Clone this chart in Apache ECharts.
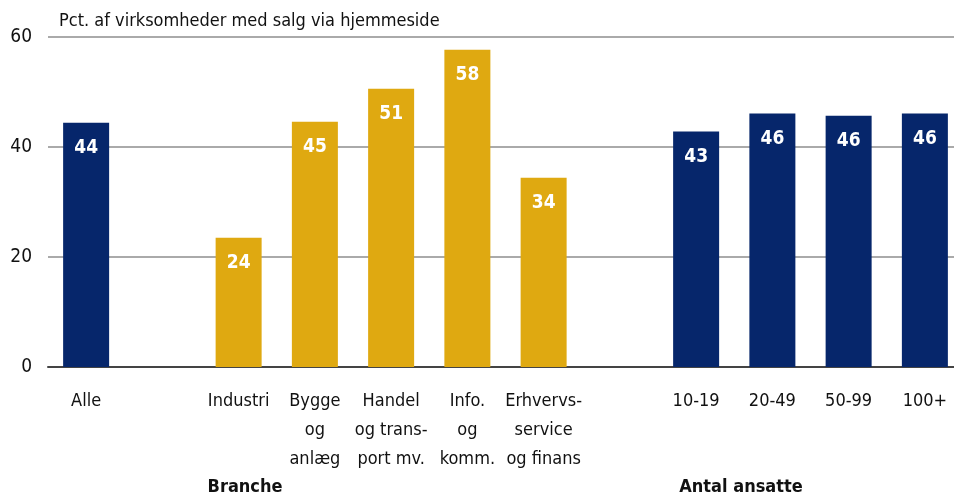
<!DOCTYPE html>
<html>
<head>
<meta charset="utf-8">
<script src="https://cdn.jsdelivr.net/npm/echarts@6/dist/echarts.min.js"></script>
<style>
  html, body { margin: 0; padding: 0; background: #fff; overflow: hidden; }
  #chart { width: 963px; height: 498px; }
</style>
</head>
<body>
<div id="chart"></div>
<script>
// categories (empty strings are the gaps between groups)
var categories = [
  'Alle', '', 'Industri', 'Bygge\nog\nanlæg', 'Handel\nog trans-\nport mv.',
  'Info.\nog\nkomm.', 'Erhvervs-\nservice\nog finans', '',
  '10-19', '20-49', '50-99', '100+'
];
var values = [44.4, '-', 23.5, 44.6, 50.6, 57.7, 34.4, '-', 42.8, 46.1, 45.7, 46.1];
var groups = ['total', '', 'branche', 'branche', 'branche', 'branche', 'branche', '', 'size', 'size', 'size', 'size'];
var yTicks = [0, 20, 40, 60];

var NAVY = '#06266b';
var GOLD = '#dfa911';
var FONT = '"DejaVu Sans Condensed", "Liberation Sans Narrow", sans-serif';

// chart is a little wider than the window so the last bar slot runs off the edge like the original
var myChart = echarts.init(document.getElementById('chart'));

myChart.setOption({
  animation: false,
  textStyle: { fontFamily: FONT },
  grid: { left: 48, right: 0, top: 37, bottom: 131 },
  xAxis: {
    type: 'category',
    data: categories,
    axisTick: { show: false },
    axisLine: { lineStyle: { color: '#444', width: 2 } },
    axisLabel: {
      interval: 0,
      color: '#111',
      fontSize: 18,
      lineHeight: 29,
      margin: 20,
      fontFamily: FONT
    }
  },
  yAxis: {
    type: 'value',
    min: yTicks[0],
    max: yTicks[yTicks.length - 1],
    interval: 20,
    axisLine: { show: false },
    axisTick: { show: false },
    splitLine: { lineStyle: { color: '#aaaaaa', width: 2 } },
    axisLabel: { color: '#111', fontSize: 19, margin: 16, fontFamily: FONT }
  },
  series: [{
    type: 'bar',
    barWidth: 46,
    data: values.map(function (v, i) {
      return {
        value: v,
        itemStyle: { color: groups[i] === 'branche' ? GOLD : NAVY }
      };
    }),
    label: {
      show: true,
      position: 'insideTop',
      distance: 16,
      color: '#fff',
      fontSize: 19,
      fontWeight: 'bold',
      fontFamily: FONT,
      formatter: function (p) { return Math.round(p.value); }
    }
  }],
  graphic: [
    {
      type: 'text', left: 59, top: 12,
      style: { text: 'Pct. af virksomheder med salg via hjemmeside', fontSize: 18, fill: '#111', fontFamily: FONT }
    },
    {
      type: 'text', x: 245, y: 487,
      style: { text: 'Branche', fontSize: 18, fontWeight: 'bold', fill: '#111', fontFamily: FONT, align: 'center', verticalAlign: 'middle' }
    },
    {
      type: 'text', x: 741, y: 487,
      style: { text: 'Antal ansatte', fontSize: 18, fontWeight: 'bold', fill: '#111', fontFamily: FONT, align: 'center', verticalAlign: 'middle' }
    }
  ]
});
</script>
</body>
</html>
